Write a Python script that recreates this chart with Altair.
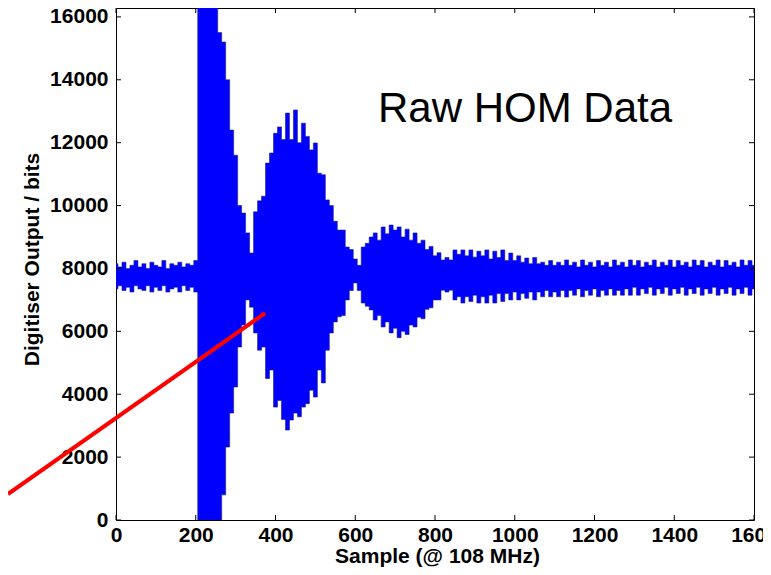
import altair as alt
import pandas as pd

# ---- data ----
STEP = 10  # sample spacing of the envelope readings (0, 10, ..., 1600)

upper = [
    8150, 8050, 8200, 8000, 8100, 8250, 8050, 8150, 8000, 8200,      # 0-90
    8100, 8050, 8250, 8000, 8150, 8100, 8200, 8050, 8150, 8100,      # 100-190
    8250, 16384, 16384, 16384, 16384, 16384, 15500, 15200, 14000, 12400,  # 200-290
    11600, 10000, 9760, 9130, 8490, 9800, 10150, 10300, 11350, 11670,     # 300-390
    12300, 12500, 12100, 12940, 12100, 13040, 12000, 12620, 12200, 11770,  # 400-490
    11990, 11030, 10980, 10180, 10000, 9500, 9220, 9220, 8680, 8600,      # 500-590
    8300, 8100, 8680, 8800, 9000, 9130, 8900, 9320, 9100, 9380,      # 600-690
    9220, 9320, 9000, 9250, 8900, 9130, 8800, 8900, 8600, 8700,      # 700-790
    8400, 8500, 8270, 8350, 8270, 8590, 8450, 8590, 8400, 8590,      # 800-890
    8360, 8550, 8400, 8590, 8300, 8550, 8350, 8590, 8250, 8490,      # 900-990
    8250, 8400, 8200, 8330, 8150, 8350, 8150, 8200, 8100, 8250,      # 1000-1090
    8100, 8200, 8100, 8270, 8100, 8200, 8050, 8270, 8100, 8200,      # 1100-1190
    8050, 8250, 8100, 8200, 8050, 8270, 8100, 8200, 8050, 8270,      # 1200-1290
    8100, 8250, 8050, 8200, 8100, 8270, 8050, 8200, 8100, 8270,      # 1300-1390
    8050, 8250, 8100, 8200, 8050, 8270, 8100, 8250, 8050, 8200,      # 1400-1490
    8100, 8270, 8050, 8250, 8100, 8200, 8050, 8270, 8100, 8250,      # 1500-1590
    8100,                                                            # 1600
]

lower = [
    7350, 7450, 7300, 7400, 7250, 7450, 7350, 7300, 7450, 7250,      # 0-90
    7400, 7300, 7450, 7250, 7350, 7400, 7250, 7450, 7300, 7400,      # 100-190
    7250, 0, 0, 0, 0, 0, 0, 800, 2320, 3400,                         # 200-290
    4230, 5500, 6200, 7000, 6770, 5950, 5400, 5500, 4500, 4770,      # 300-390
    3590, 3800, 3200, 2860, 3180, 3400, 3280, 3590, 3700, 4130,      # 400-490
    3910, 4770, 4360, 5400, 5950, 6300, 6460, 6500, 7000, 7300,      # 500-590
    7540, 7300, 6900, 6800, 6680, 6360, 6500, 6140, 6300, 5950,      # 600-690
    6100, 5800, 6000, 5900, 6200, 6140, 6450, 6400, 6700, 6750,      # 700-790
    7000, 7000, 7310, 7250, 7310, 7000, 7100, 6900, 7100, 6950,      # 800-890
    7150, 6900, 7100, 6900, 7150, 6900, 7200, 6950, 7200, 7000,      # 900-990
    7250, 7000, 7200, 7050, 7250, 7000, 7250, 7100, 7300, 7100,      # 1000-1090
    7250, 7100, 7300, 7090, 7300, 7150, 7350, 7100, 7300, 7150,      # 1100-1190
    7350, 7100, 7300, 7150, 7350, 7150, 7300, 7150, 7350, 7150,      # 1200-1290
    7400, 7150, 7350, 7200, 7400, 7150, 7350, 7200, 7400, 7150,      # 1300-1390
    7350, 7200, 7400, 7150, 7350, 7200, 7400, 7150, 7350, 7200,      # 1400-1490
    7400, 7150, 7350, 7200, 7400, 7150, 7350, 7200, 7400, 7150,      # 1500-1590
    7350,                                                            # 1600
]

x_ticks = [0, 200, 400, 600, 800, 1000, 1200, 1400, 1600]
y_ticks = [0, 2000, 4000, 6000, 8000, 10000, 12000, 14000, 16000]

# red pointer line (sample, value)
pointer_x = [-271, 374]
pointer_y = [827, 6583]

# annotation
note_x = [657]
note_y = [12657]
note_text = ["Raw HOM Data"]

assert len(upper) == len(lower)
samples = [i * STEP for i in range(len(upper))]

# ---- chart ----
W, H = 638, 512
FONT = "Liberation Sans"
XS = alt.Scale(domain=[0, 1600], nice=False, zero=False)
YS = alt.Scale(domain=[0, 16283], nice=False, zero=False)

x_axis = alt.Axis(
    values=x_ticks, format="d", title="Sample (@ 108 MHz)",
    ticks=False, domain=False, grid=False, labelFlush=False,
    labelBaseline="alphabetic", labelPadding=21,
    titleX=321, titleY=42, titleBaseline="alphabetic", titleAlign="center",
)
y_axis = alt.Axis(
    values=y_ticks, format="d", title="Digitiser Output / bits",
    ticks=False, domain=False, grid=False, labelFlush=False,
    labelPadding=8,
    titleX=-78, titleY=251, titleAngle=270, titleBaseline="alphabetic", titleAlign="center",
)

sig_df = pd.DataFrame({"sample": samples, "upper": upper, "lower": lower})
signal = alt.Chart(sig_df).mark_area(
    color="#0000ff", opacity=1, clip=True, interpolate="step",
    stroke="#1c1c8c", strokeWidth=0.6,
).encode(
    x=alt.X("sample:Q", scale=XS, axis=x_axis),
    y=alt.Y("upper:Q", scale=YS, axis=y_axis),
    y2=alt.Y2("lower:Q"),
)

xt_df = pd.DataFrame({"v": x_ticks})
yt_df = pd.DataFrame({"v": y_ticks})

tick_style = dict(color="black", strokeWidth=1)
bottom_ticks = alt.Chart(xt_df).mark_rule(**tick_style).encode(
    x=alt.X("v:Q", scale=XS), y=alt.value(H), y2=alt.value(H - 5))
top_ticks = alt.Chart(xt_df).mark_rule(**tick_style).encode(
    x=alt.X("v:Q", scale=XS), y=alt.value(0), y2=alt.value(5))
left_ticks = alt.Chart(yt_df).mark_rule(**tick_style).encode(
    y=alt.Y("v:Q", scale=YS), x=alt.value(0), x2=alt.value(5))
right_ticks = alt.Chart(yt_df).mark_rule(**tick_style).encode(
    y=alt.Y("v:Q", scale=YS), x=alt.value(W), x2=alt.value(W - 5))

pointer = alt.Chart(pd.DataFrame({"px": pointer_x, "py": pointer_y})).mark_line(
    color="#ff0000", strokeWidth=4, strokeCap="butt").encode(
    x=alt.X("px:Q", scale=XS), y=alt.Y("py:Q", scale=YS))

note = alt.Chart(pd.DataFrame({"nx": note_x, "ny": note_y, "t": note_text})).mark_text(
    align="left", baseline="alphabetic", font=FONT, fontSize=42, color="black").encode(
    x=alt.X("nx:Q", scale=XS), y=alt.Y("ny:Q", scale=YS), text="t:N")

chart = alt.layer(
    signal, bottom_ticks, top_ticks, left_ticks, right_ticks, note, pointer
).properties(
    width=W, height=H,
    autosize=alt.AutoSizeParams(type="none"),
    padding={"left": 108, "top": 0, "right": 9, "bottom": 47},
    background="white",
).configure_view(
    stroke="black", strokeWidth=1
).configure_axis(
    labelFont=FONT, labelFontSize=21, labelFontWeight="bold", labelColor="black",
    titleFont=FONT, titleFontSize=21, titleFontWeight="bold", titleColor="black",
)

chart.save("out.html", embed_options={"renderer": "svg", "actions": False})
